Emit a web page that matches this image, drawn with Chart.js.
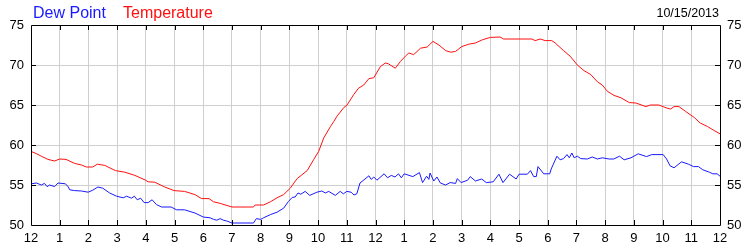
<!DOCTYPE html>
<html>
<head>
<meta charset="utf-8">
<script src="https://cdn.jsdelivr.net/npm/chart.js@4/dist/chart.umd.min.js"></script>
<style>
html,body{margin:0;padding:0;background:#fff;}
#wrap{width:750px;height:250px;}
</style>
</head>
<body>
<div id="wrap"><canvas id="c" width="750" height="250"></canvas></div>
<script>
const hourLabels = ['12','1','2','3','4','5','6','7','8','9','10','11','12','1','2','3','4','5','6','7','8','9','10','11','12'];
const dateLabel = '10/15/2013';
const seriesNames = ['Dew Point', 'Temperature'];

const tempHours = [0,0.2,0.36,0.59,0.82,1.0,1.22,1.52,1.76,1.93,2.15,2.31,2.57,2.94,3.27,3.62,3.99,4.08,4.31,4.66,4.98,5.35,5.71,5.94,6.2,6.36,6.59,7.0,7.75,7.81,8.1,8.34,8.57,8.8,9.03,9.27,9.62,9.85,10.02,10.2,10.43,10.55,10.66,10.9,11.0,11.24,11.41,11.59,11.77,11.94,12.17,12.34,12.45,12.69,12.87,13.04,13.16,13.33,13.57,13.8,14.0,14.21,14.44,14.62,14.79,15.0,15.25,15.48,15.72,16.0,16.34,16.46,17.45,17.56,17.74,17.91,18.14,18.26,18.55,18.78,19.03,19.26,19.5,19.73,19.9,20.08,20.31,20.55,20.84,21.07,21.42,21.57,21.87,22.16,22.28,22.4,22.57,22.8,23.1,23.31,23.57,23.8,24.0];
const tempValues = [59.2,58.9,58.6,58.2,58.0,58.25,58.2,57.7,57.5,57.25,57.25,57.6,57.45,56.8,56.6,56.2,55.6,55.4,55.35,54.75,54.3,54.2,53.8,53.3,53.3,52.9,52.7,52.25,52.25,52.5,52.5,52.9,53.4,53.8,54.6,55.8,56.8,58.2,59.2,60.9,62.3,62.95,63.6,64.7,64.95,66.3,67.1,67.5,68.3,68.4,69.8,70.25,70.15,69.6,70.45,71.1,71.5,71.3,72.1,72.25,72.95,72.5,71.8,71.6,71.7,72.3,72.6,72.75,73.15,73.45,73.5,73.25,73.25,73.05,73.25,73.05,73.05,72.75,71.8,71.1,70.0,69.3,68.8,67.9,67.5,66.7,66.2,65.9,65.3,65.25,64.8,65.0,65.0,64.6,64.5,64.8,64.8,64.2,63.45,62.75,62.3,61.8,61.4];

const dewHours = [0,0.19,0.36,0.47,0.56,0.65,0.82,0.94,1.2,1.3,1.35,1.52,1.76,1.99,2.15,2.33,2.5,2.74,2.98,3.21,3.33,3.5,3.6,3.7,3.82,3.94,4.08,4.22,4.37,4.55,4.88,5.07,5.35,5.71,6.0,6.24,6.36,6.47,6.59,6.7,6.82,7.0,7.75,7.85,8.0,8.1,8.34,8.57,8.8,8.97,9.1,9.2,9.3,9.4,9.55,9.71,9.96,10.13,10.25,10.37,10.6,10.77,10.88,11.0,11.15,11.25,11.35,11.46,11.6,11.77,11.85,11.94,12.05,12.3,12.42,12.55,12.68,12.8,12.9,13.0,13.3,13.53,13.64,13.78,13.86,13.9,14.03,14.14,14.26,14.44,14.6,14.79,14.85,14.98,15.21,15.3,15.48,15.7,15.86,16.1,16.3,16.44,16.67,16.9,17.0,17.29,17.4,17.51,17.6,17.66,17.86,18.07,18.12,18.32,18.43,18.55,18.67,18.75,18.84,18.92,19.03,19.15,19.38,19.55,19.73,19.9,20.14,20.3,20.5,20.66,20.9,21.15,21.44,21.62,22.02,22.14,22.26,22.4,22.66,22.9,23.08,23.25,23.4,23.63,23.75,23.9,24.0];
const dewValues = [55.15,55.25,55.0,55.2,54.8,55.0,54.8,55.25,55.15,54.75,54.4,54.3,54.25,54.1,54.35,54.75,54.6,54.0,53.6,53.4,53.6,53.35,53.6,53.15,53.35,52.8,52.8,53.15,52.55,52.25,52.25,51.9,51.9,51.5,51.0,50.9,50.7,50.6,50.8,50.6,50.5,50.25,50.25,50.8,50.7,50.9,51.3,51.6,52.1,52.95,53.45,53.5,54.0,53.85,54.2,53.7,54.1,54.25,54.0,54.2,53.7,54.2,53.9,54.2,54.1,53.75,53.9,55.25,55.65,56.15,55.7,56.0,55.6,56.4,55.9,56.2,56.0,56.4,55.9,56.4,56.05,56.55,55.3,56.1,55.7,56.5,55.5,56.0,55.25,55.0,55.3,55.2,55.8,55.3,55.6,56.05,55.5,55.75,55.3,55.4,56.35,55.3,56.35,55.75,56.35,56.35,56.8,56.05,56.05,57.3,56.4,56.4,57.0,58.6,58.15,58.3,58.8,58.4,59.0,58.4,58.6,58.3,58.25,58.5,58.25,58.4,58.25,58.25,58.6,58.15,58.4,58.9,58.55,58.8,58.8,58.25,57.4,57.15,57.9,57.6,57.3,57.3,56.9,56.6,56.4,56.4,56.1];

const yMin = 50, yMax = 75, yStep = 5;

const BLUE = 'rgb(25,25,255)';
const RED = 'rgb(255,15,15)';
const FONT = '"Liberation Sans", Arial, sans-serif';

function pts(xs, ys){ return xs.map((x,i)=>({x:x, y:ys[i]})); }

const framePlugin = {
  id: 'frame',
  afterDraw(chart){
    const ctx = chart.ctx, a = chart.chartArea;
    const xs = chart.scales.x, ys = chart.scales.y;
    ctx.save();
    ctx.strokeStyle = '#000';
    ctx.lineWidth = 1;
    ctx.beginPath();
    ctx.rect(Math.round(a.left)+0.5, Math.round(a.top)+0.5, Math.round(a.right-a.left), Math.round(a.bottom-a.top));
    ctx.stroke();
    ctx.beginPath();
    for (let h = 1; h < hourLabels.length-1; h++){
      const px = Math.round(xs.getPixelForValue(h))+0.5;
      ctx.moveTo(px, a.top); ctx.lineTo(px, a.top+5);
      ctx.moveTo(px, a.bottom); ctx.lineTo(px, a.bottom-5);
    }
    for (let v = yMin+yStep; v < yMax; v += yStep){
      const py = Math.round(ys.getPixelForValue(v))+0.5;
      ctx.moveTo(a.left, py); ctx.lineTo(a.left+5, py);
      ctx.moveTo(a.right, py); ctx.lineTo(a.right-5, py);
    }
    ctx.stroke();
    ctx.textBaseline = 'alphabetic';
    ctx.font = '16px ' + FONT;
    ctx.fillStyle = BLUE;
    ctx.textAlign = 'left';
    ctx.fillText(seriesNames[0], 33, 18);
    ctx.fillStyle = RED;
    ctx.fillText(seriesNames[1], 123, 18);
    ctx.font = '12.5px ' + FONT;
    ctx.fillStyle = '#000';
    ctx.textAlign = 'right';
    ctx.fillText(dateLabel, 719, 17);
    ctx.restore();
  }
};

new Chart(document.getElementById('c'), {
  type: 'line',
  data: {
    datasets: [
      { label: seriesNames[0], data: pts(dewHours, dewValues), borderColor: BLUE, borderWidth: 1, pointRadius: 0, tension: 0, fill: false },
      { label: seriesNames[1], data: pts(tempHours, tempValues), borderColor: RED, borderWidth: 1, pointRadius: 0, tension: 0, fill: false }
    ]
  },
  options: {
    responsive: false,
    animation: false,
    devicePixelRatio: 1,
    layout: { padding: { top: 25, left: 0, right: 0, bottom: 0 } },
    plugins: { legend: { display: false }, tooltip: { enabled: false } },
    scales: {
      x: {
        type: 'linear', min: 0, max: hourLabels.length-1,
        afterFit: s => { s.height = 25; },
        border: { display: false },
        grid: { color: '#cfcfcf', drawTicks: false, lineWidth: 1 },
        ticks: { stepSize: 1, autoSkip: false, maxRotation: 0, padding: 6, color: '#000',
                 font: { family: FONT, size: 13 },
                 callback: v => hourLabels[v] }
      },
      y: {
        position: 'left', min: yMin, max: yMax,
        afterFit: s => { s.width = 31; },
        border: { display: false },
        grid: { color: '#cfcfcf', drawTicks: false, lineWidth: 1 },
        ticks: { stepSize: yStep, padding: 7, color: '#000', font: { family: FONT, size: 13 } }
      },
      y2: {
        position: 'right', min: yMin, max: yMax,
        afterFit: s => { s.width = 30; },
        border: { display: false },
        grid: { display: false, drawTicks: false },
        ticks: { stepSize: yStep, padding: 7, color: '#000', font: { family: FONT, size: 13 } }
      }
    }
  },
  plugins: [framePlugin]
});
</script>
</body>
</html>
